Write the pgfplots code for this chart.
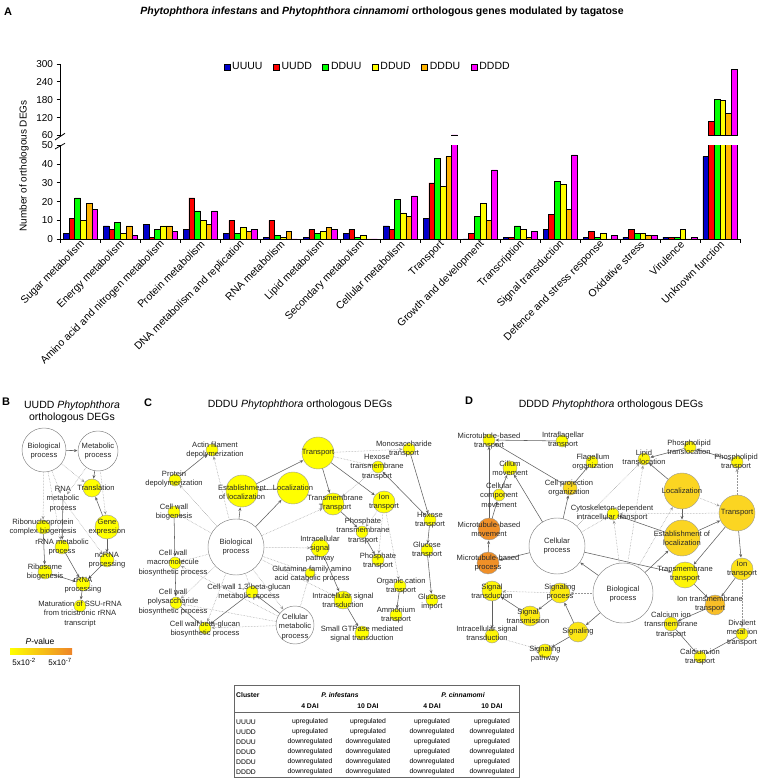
\documentclass[border=0pt]{standalone}
\usepackage{pgfplots}
\pgfplotsset{compat=1.18}
\usepackage{pgfplotstable}
\usepackage{fontspec}
\setmainfont{Liberation Sans}
\usetikzlibrary{arrows.meta}
\definecolor{cU}{RGB}{0,0,204}
\definecolor{cR}{RGB}{255,0,0}
\definecolor{cG}{RGB}{0,255,0}
\definecolor{cY}{RGB}{255,255,0}
\definecolor{cO}{RGB}{255,180,0}
\definecolor{cM}{RGB}{255,0,255}
\definecolor{eg}{RGB}{95,95,95}
\definecolor{dg}{RGB}{150,150,150}
\definecolor{tx}{RGB}{40,40,40}
\newcommand{\fs}[1]{\fontsize{#1}{#1}\selectfont}
\tikzset{
  se/.style={draw=eg, line width=0.55pt, -{Stealth[length=3.5pt,width=3pt]}},
  de/.style={draw=dg, line width=0.5pt, densely dotted, -{Stealth[length=3.5pt,width=3pt]}},
  lbl/.style={align=center, font=\fontsize{7.6}{9.3}\selectfont, text=tx, inner sep=0pt},
}
\newcommand{\E}[6]{\addplot[#1, shorten >=#6pt] coordinates {(#2,#3) (#4,#5)};}
\newcommand{\Lb}[3]{\node[lbl] at (axis cs:#1,#2) {#3};}

\pgfplotstableread{
idx UUUU UUDD DDUU DDUD DDDU DDDD
0 3 11 22 10 19 16
1 7 5 9 3 7 2
2 8 1 5 7 7 4
3 5 22 15 10 8 15
4 3 10 3 6 4 5
5 1 10 2 1 4 0
6 1 5 3 4 6 5
7 3 5 1 2 0 0
8 7 5 21 14 12 23
9 11 30 43 28 44 62
10 0 3 12 19 10 37
11 1 1 7 5 1 4
12 5 13 31 29 16 45
13 1 4 1 3 0 2
14 1 5 3 3 2 2
15 1 1 1 5 0 1
16 44 106 183 178 133 282
}\bars

\begin{document}
\begin{tikzpicture}[x=1pt,y=1pt]
\useasboundingbox (0,0) rectangle (760,778);

% ---------------- Panel A ----------------
\node[font=\bfseries\fs{11}] at (8,766) {A};
\node[font=\bfseries\fs{10.5}] at (382,766) {\textit{Phytophthora infestans} and \textit{Phytophthora cinnamomi} orthologous genes modulated by tagatose};
\node[font=\fs{10}, rotate=90] at (24,612) {Number of orthologous DEGs};

\begin{axis}[
  at={(400.25pt,585.75pt)}, anchor=center,
  scale only axis, width=679.5pt, height=93.5pt,
  xmin=-0.5, xmax=16.5, ymin=0, ymax=50,
  axis x line=bottom, axis y line=left,
  axis line style={-, line width=0.8pt},
  ybar=0pt, bar width=5.7pt,
  ytick={0,10,...,50},
  xtick={-0.5,0.5,...,16.5},
  x tick label as interval,
  xticklabels={Sugar metabolism, Energy metabolism, Amino acid and nitrogen metabolism, Protein metabolism, DNA metabolism and replication, RNA metabolism, Lipid metabolism, Secondary metabolism, Cellular metabolism, Transport, Growth and development, Transcription, Signal transduction, Defence and stress response, Oxidative stress, Virulence, Unknown function},
  x tick label style={rotate=45, anchor=east, font=\fs{10.5}, inner sep=1pt, xshift=3pt, yshift=-1.5pt},
  y tick label style={font=\fs{10}},
  tick align=outside, major tick length=4pt,
  tick style={black, line width=0.8pt},
  /pgf/number format/assume math mode=true,
]
\addplot[fill=cU, draw=black, line width=0.6pt] table[x=idx, y=UUUU] {\bars};
\addplot[fill=cR, draw=black, line width=0.6pt] table[x=idx, y=UUDD] {\bars};
\addplot[fill=cG, draw=black, line width=0.6pt] table[x=idx, y=DDUU] {\bars};
\addplot[fill=cY, draw=black, line width=0.6pt] table[x=idx, y=DDUD] {\bars};
\addplot[fill=cO, draw=black, line width=0.6pt] table[x=idx, y=DDDU] {\bars};
\addplot[fill=cM, draw=black, line width=0.6pt] table[x=idx, y=DDDD] {\bars};
\end{axis}

\begin{axis}[
  at={(400.25pt,678.25pt)}, anchor=center,
  scale only axis, width=679.5pt, height=71.5pt,
  xmin=-0.5, xmax=16.5, ymin=0, ymax=240,
  axis x line=none, axis y line=left,
  axis line style={-, line width=0.8pt},
  ytick={0,60,...,240}, yticklabels={60,120,180,240,300},
  y tick label style={font=\fs{10}},
  tick align=outside, major tick length=4pt,
  tick style={black, line width=0.8pt},
  y filter/.expression={y-60},
  legend image code/.code={\draw[#1, draw=black, line width=0.6pt] (0pt,-3pt) rectangle (6pt,3pt);},
  legend style={at={(0.452,1.05)}, anchor=north, draw=none, fill=none, font=\fs{10.5},
    legend columns=6, inner sep=0pt, /tikz/every even column/.append style={column sep=8.5pt}},
  legend cell align=left,
]
\addlegendimage{fill=cU}\addlegendentry{UUUU}
\addlegendimage{fill=cR}\addlegendentry{UUDD}
\addlegendimage{fill=cG}\addlegendentry{DDUU}
\addlegendimage{fill=cY}\addlegendentry{DDUD}
\addlegendimage{fill=cO}\addlegendentry{DDDU}
\addlegendimage{fill=cM}\addlegendentry{DDDD}
\addplot[ybar, bar width=5.7pt, bar shift=-8.55pt, fill=cR, draw=black, line width=0.6pt, forget plot] coordinates {(16,106)};
\addplot[ybar, bar width=5.7pt, bar shift=-2.85pt, fill=cG, draw=black, line width=0.6pt, forget plot] coordinates {(16,183)};
\addplot[ybar, bar width=5.7pt, bar shift=2.85pt, fill=cY, draw=black, line width=0.6pt, forget plot] coordinates {(16,178)};
\addplot[ybar, bar width=5.7pt, bar shift=8.55pt, fill=cO, draw=black, line width=0.6pt, forget plot] coordinates {(16,133)};
\addplot[ybar, bar width=5.7pt, bar shift=14.25pt, fill=cM, draw=black, line width=0.6pt, forget plot] coordinates {(9,62) (16,282)};
\end{axis}
% axis break marks
\draw[line width=0.8pt] (55,638) -- (65,644.7);
\draw[line width=0.8pt] (55,629) -- (65,634.7);

% ---------------- Panels B, C, D (networks) ----------------
\node[font=\bfseries\fs{11}] at (6,376) {B};
\node[font=\fs{10.5}, align=center] at (72,366) {UUDD \textit{Phytophthora}\\[1pt]orthologous DEGs};
\node[font=\bfseries\fs{11}] at (148,375) {C};
\node[font=\fs{10.5}] at (300,373) {DDDU \textit{Phytophthora} orthologous DEGs};
\node[font=\bfseries\fs{11}] at (469,377) {D};
\node[font=\fs{10.5}] at (611,373) {DDDD \textit{Phytophthora} orthologous DEGs};

\begin{axis}[
  at={(380pt,253pt)}, anchor=center, scale only axis,
  width=760pt, height=310pt,
  xmin=0, xmax=760, ymin=370, ymax=680, y dir=reverse,
  hide axis, clip=false, clip marker paths=true,
  colormap={yo}{rgb255=(255,255,0) rgb255=(250,205,40) rgb255=(238,132,40)},
  point meta min=0, point meta max=1,
]
% ---- B edges
\E{se}{44}{450}{98}{451}{20.5}
\E{de}{44}{450}{92}{488}{9.5}
\E{de}{44}{450}{63}{500}{7}
\E{de}{44}{450}{43}{527}{7.5}
\E{de}{44}{450}{62}{547}{7.5}
\E{de}{98}{451}{107}{527}{12.5}
\E{se}{98}{451}{92}{488}{9.5}
\E{de}{98}{451}{63}{500}{7}
\E{se}{107}{527}{92}{488}{9.5}
\E{se}{107}{527}{107}{560}{7.5}
\E{se}{63}{500}{62}{547}{7.5}
\E{de}{63}{500}{107}{560}{7.5}
\E{se}{43}{527}{45}{572}{7.5}
\E{se}{45}{572}{83}{584}{7.5}
\E{se}{62}{547}{83}{584}{7.5}
\E{se}{107}{560}{83}{584}{7.5}
\E{se}{83}{584}{80}{606}{6.5}
% ---- C edges
\E{se}{175}{480}{212}{450}{6.5}
\E{de}{236}{547}{212}{450}{6.5}
\E{de}{236}{547}{175}{480}{6.5}
\E{se}{236}{547}{242}{491}{16.5}
\E{se}{236}{547}{293}{488}{16.5}
\E{de}{236}{547}{333}{504}{11.5}
\E{de}{236}{547}{174}{512}{6.5}
\E{de}{236}{547}{175}{563}{6.5}
\E{de}{236}{547}{176}{603}{6.5}
\E{de}{236}{547}{205}{628}{6.5}
\E{de}{236}{547}{252}{592}{6.5}
\E{de}{236}{547}{320}{548}{9.5}
\E{de}{236}{547}{310}{573}{5.5}
\E{de}{236}{547}{343}{600}{9.5}
\E{de}{236}{547}{295}{625}{19.5}
\E{se}{293}{488}{242}{491}{16.5}
\E{se}{242}{491}{318}{453}{16.5}
\E{se}{318}{453}{333}{504}{11.5}
\E{se}{318}{453}{384}{502}{11.5}
\E{de}{318}{453}{409}{449}{6.5}
\E{de}{318}{453}{378}{467}{6.5}
\E{se}{409}{449}{430}{520}{6.5}
\E{se}{430}{520}{378}{467}{6.5}
\E{se}{430}{520}{427}{550}{6.5}
\E{se}{427}{550}{432}{600}{6.5}
\E{de}{378}{467}{333}{504}{11.5}
\E{se}{333}{504}{362}{532}{6.5}
\E{de}{384}{502}{362}{532}{6.5}
\E{se}{362}{532}{378}{560}{6.5}
\E{de}{384}{502}{378}{560}{6.5}
\E{de}{384}{502}{400}{586}{6.5}
\E{se}{400}{586}{396}{615}{6.5}
\E{se}{174}{512}{175}{563}{6.5}
\E{se}{175}{563}{176}{603}{6.5}
\E{se}{176}{603}{205}{628}{6.5}
\E{se}{252}{592}{205}{628}{6.5}
\E{de}{295}{625}{310}{573}{5.5}
\E{se}{295}{625}{252}{592}{6.5}
\E{de}{295}{625}{176}{603}{6.5}
\E{de}{295}{625}{205}{628}{6.5}
\E{de}{295}{625}{175}{563}{6.5}
\E{se}{320}{548}{343}{600}{9.5}
\E{se}{343}{600}{362}{633}{7.5}
% ---- D edges
\E{se}{488}{563}{489}{529}{11.5}
\E{se}{489}{529}{489}{440}{6.5}
\E{se}{489}{529}{499}{495}{6.5}
\E{se}{499}{495}{510}{468}{7.5}
\E{se}{562}{441}{489}{440}{6.5}
\E{se}{570}{488}{489}{440}{6.5}
\E{se}{570}{488}{592}{462}{6.5}
\E{se}{557}{546}{510}{468}{7.5}
\E{se}{557}{546}{570}{488}{7.5}
\E{se}{557}{546}{488}{563}{11.5}
\E{de}{557}{546}{613}{514}{6.5}
\E{de}{557}{546}{644}{459}{6.5}
\E{se}{557}{546}{685}{575}{13.5}
\E{se}{623}{593}{557}{546}{28.5}
\E{de}{623}{593}{560}{593}{10.5}
\E{se}{623}{593}{578}{632}{10.5}
\E{de}{623}{593}{682}{491}{18.5}
\E{se}{623}{593}{682}{538}{18.5}
\E{de}{623}{593}{644}{459}{6.5}
\E{de}{623}{593}{613}{514}{6.5}
\E{se}{682}{491}{682}{538}{18.5}
\E{se}{682}{491}{644}{459}{6.5}
\E{de}{682}{491}{737}{513}{18.5}
\E{se}{682}{538}{737}{513}{18.5}
\E{se}{682}{538}{613}{514}{6.5}
\E{se}{737}{513}{685}{575}{13.5}
\E{se}{737}{513}{742}{569}{11.5}
\E{de}{737}{513}{737}{462}{6.5}
\E{de}{737}{513}{613}{514}{6.5}
\E{se}{690}{447}{644}{459}{6.5}
\E{se}{737}{462}{690}{447}{6.5}
\E{se}{685}{575}{715}{605}{10.5}
\E{se}{742}{569}{715}{605}{10.5}
\E{de}{742}{569}{742}{634}{6.5}
\E{se}{715}{605}{671}{624}{7.5}
\E{se}{671}{624}{700}{657}{6.5}
\E{se}{742}{634}{700}{657}{6.5}
\E{de}{560}{593}{492}{591}{10.5}
\E{se}{560}{593}{530}{616}{10.5}
\E{se}{530}{616}{492}{591}{10.5}
\E{se}{492}{591}{492}{636}{7.5}
\E{se}{578}{632}{560}{593}{10.5}
\E{se}{578}{632}{545}{651}{7.5}
\E{de}{492}{636}{545}{651}{7.5}

% ---- white (parent) nodes
\addplot[scatter, only marks, mark=*,
  scatter/use mapped color={draw=black!50, fill=white},
  visualization depends on={\thisrow{r}\as\rr},
  scatter/@pre marker code/.append style={/tikz/mark size=\rr pt},
  mark options={line width=0.45pt},
  point meta=explicit] table[x=x, y=y, meta=r] {
x y r
44 450 22
98 451 20
236 547 28
295 625 19
557 546 28
623 593 30
};
% ---- coloured (enriched) nodes
\addplot[scatter, only marks, mark=*,
  scatter/use mapped color={draw=black!40, fill=mapped color},
  visualization depends on={\thisrow{r}\as\rr},
  scatter/@pre marker code/.append style={/tikz/mark size=\rr pt},
  mark options={line width=0.4pt},
  point meta=explicit] table[x=x, y=y, meta=c] {
x y r c
92 488 9 0
107 527 12 0
43 527 7 0
62 547 7 0
107 560 7 0
45 572 7 0
83 584 7 0
80 606 6 0
212 450 6 0
175 480 6 0
242 491 16 0
293 488 16 0
318 453 16 0
333 504 11 0
384 502 11 0
409 449 6 0.05
378 467 6 0
430 520 6 0
427 550 6 0
432 600 6 0
362 532 6 0
378 560 6 0
400 586 6 0
396 615 6 0
174 512 6 0
320 548 9 0
310 573 5 0
175 563 6 0
252 592 6 0
176 603 6 0
205 628 6 0
343 600 9 0
362 633 7 0
489 440 6 0.05
562 441 6 0
592 462 6 0.05
510 468 7 0.05
499 495 6 0.1
570 488 7 0.38
613 514 6 0.05
644 459 6 0.1
690 447 6 0.1
737 462 6 0.1
682 491 18 0.42
737 513 18 0.42
682 538 18 0.42
489 529 11 0.92
488 563 11 0.92
685 575 13 0.1
742 569 11 0.3
715 605 10 0.6
671 624 7 0.15
742 634 6 0.1
700 657 6 0.1
492 591 10 0.1
560 593 10 0.2
530 616 10 0.2
578 632 10 0.25
492 636 7 0.1
545 651 7 0.1
};
% ---- B labels
\Lb{44}{451}{Biological\\process}
\Lb{98}{451}{Metabolic\\process}
\Lb{96}{488}{Translation}
\Lb{63}{499}{RNA\\metabolic\\process}
\Lb{107}{527}{Gene\\expression}
\Lb{43}{527}{Ribonucleoprotein\\complex biogenesis}
\Lb{62}{547}{rRNA metabolic\\process}
\Lb{107}{560}{ncRNA\\processing}
\Lb{45}{572}{Ribosome\\biogenesis}
\Lb{83}{585}{rRNA\\processing}
\Lb{80}{614}{Maturation of SSU-rRNA\\from tricistronic rRNA\\transcript}
% ---- C labels
\Lb{215}{450}{Actin filament\\depolymerization}
\Lb{174}{479}{Protein\\depolymerization}
\Lb{242}{492}{Establishment\\of localization}
\Lb{293}{488}{Localization}
\Lb{318}{453}{Transport}
\Lb{335}{503}{Transmembrane\\Transport}
\Lb{384}{502}{Ion\\transport}
\Lb{404}{449}{Monosaccharide\\transport}
\Lb{377}{467}{Hexose\\transmembrane\\transport}
\Lb{430}{520}{Hexose\\transport}
\Lb{427}{550}{Glucose\\transport}
\Lb{432}{602}{Glucose\\import}
\Lb{363}{531}{Phosphate\\transmembrane\\transport}
\Lb{378}{561}{Phosphate\\transport}
\Lb{401}{586}{Organic cation\\transport}
\Lb{396}{615}{Ammonium\\transport}
\Lb{174}{512}{Cell wall\\biogenesis}
\Lb{236}{547}{Biological\\process}
\Lb{320}{549}{Intracellular\\signal\\pathway}
\Lb{312}{574}{Glutamine family amino\\acid catabolic process}
\Lb{173}{563}{Cell wall\\macromolecule\\biosynthetic process}
\Lb{249}{592}{Cell wall 1,3-beta-glucan\\metabolic process}
\Lb{173}{602}{Cell wall\\polysaccharide\\biosynthetic process}
\Lb{205}{629}{Cell wall beta-glucan\\biosynthetic process}
\Lb{295}{627}{Cellular\\metabolic\\process}
\Lb{343}{600}{Intracellular signal\\transduction}
\Lb{362}{634}{Small GTPase mediated\\signal transduction}
% ---- D labels
\Lb{489}{441}{Microtubule-based\\transport}
\Lb{563}{440}{Intraflagellar\\transport}
\Lb{593}{462}{Flagellum\\organization}
\Lb{510}{468}{Cilium\\movement}
\Lb{499}{495}{Cellular\\component\\movement}
\Lb{569}{488}{Cell projection\\organization}
\Lb{612}{513}{Cytoskeleton-dependent\\intracellular transport}
\Lb{644}{457}{Lipid\\translocation}
\Lb{689}{447}{Phospholipid\\translocation}
\Lb{736}{462}{Phospholipid\\transport}
\Lb{682}{491}{Localization}
\Lb{737}{513}{Transport}
\Lb{682}{538}{Establishment of\\localization}
\Lb{489}{529}{Microtubule-based\\movement}
\Lb{488}{563}{Microtubule-based\\process}
\Lb{557}{546}{Cellular\\process}
\Lb{623}{594}{Biological\\process}
\Lb{685}{574}{Transmembrane\\transport}
\Lb{742}{569}{Ion\\transport}
\Lb{710}{604}{Ion transmembrane\\transport}
\Lb{671}{625}{Calcium ion\\transmembrane\\transport}
\Lb{742}{633}{Divalent\\metal ion\\transport}
\Lb{700}{657}{Calcium ion\\transport}
\Lb{492}{591}{Signal\\transduction}
\Lb{560}{592}{Signaling\\process}
\Lb{528}{616}{Signal\\transmission}
\Lb{578}{632}{Signaling}
\Lb{487}{633}{Intracellular signal\\transduction}
\Lb{545}{654}{Signaling\\pathway}
\end{axis}

% ---- P-value colour key (panel B)
\node[font=\fs{8.5}] at (40,137) {\textit{P}-value};
\shade[left color=yellow, right color={rgb,255:red,238;green,132;blue,40}] (10,123) rectangle (72,129);
\node[font=\fs{8}] at (24,116) {5x10\textsuperscript{-2}};
\node[font=\fs{8}] at (60,116) {5x10\textsuperscript{-7}};

% ---------------- Table ----------------
\draw[line width=0.5pt, black!60] (234,93) rectangle (519,1);
\draw[line width=0.5pt, black!60] (234,66) -- (519,66);
\begin{scope}[every node/.style={font=\fs{6.8}, inner sep=0pt}]
\node[font=\bfseries\fs{6.8}, anchor=west] at (236,83) {Cluster};
\node[font=\bfseries\itshape\fs{6.8}] at (340,83) {P. infestans};
\node[font=\bfseries\itshape\fs{6.8}] at (463,83) {P. cinnamomi};
\node[font=\bfseries\fs{6.8}] at (310,72) {4 DAI};
\node[font=\bfseries\fs{6.8}] at (368,72) {10 DAI};
\node[font=\bfseries\fs{6.8}] at (432,72) {4 DAI};
\node[font=\bfseries\fs{6.8}] at (492,72) {10 DAI};
\node[anchor=west] at (236,56) {UUUU};
\node at (310,56) {upregulated};\node at (368,56) {upregulated};\node at (432,56) {upregulated};\node at (492,56) {upregulated};
\node[anchor=west] at (236,46) {UUDD};
\node at (310,46) {upregulated};\node at (368,46) {upregulated};\node at (432,46) {downregulated};\node at (492,46) {downregulated};
\node[anchor=west] at (236,36) {DDUU};
\node at (310,36) {downregulated};\node at (368,36) {downregulated};\node at (432,36) {upregulated};\node at (492,36) {upregulated};
\node[anchor=west] at (236,26) {DDUD};
\node at (310,26) {downregulated};\node at (368,26) {downregulated};\node at (432,26) {upregulated};\node at (492,26) {downregulated};
\node[anchor=west] at (236,16) {DDDU};
\node at (310,16) {downregulated};\node at (368,16) {downregulated};\node at (432,16) {downregulated};\node at (492,16) {upregulated};
\node[anchor=west] at (236,6) {DDDD};
\node at (310,6) {downregulated};\node at (368,6) {downregulated};\node at (432,6) {downregulated};\node at (492,6) {downregulated};
\end{scope}
\end{tikzpicture}
\end{document}
